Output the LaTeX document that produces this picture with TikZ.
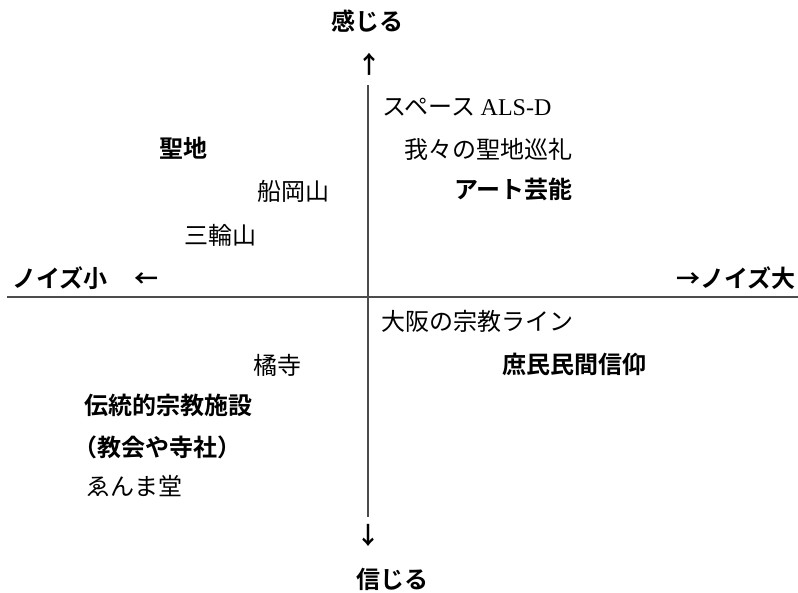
\documentclass[tikz,border=0pt]{standalone}
\usepackage{fontspec}
\setmainfont{Noto Sans CJK JP}[BoldFont={Noto Sans CJK JP Bold}]
\newfontfamily\latinserif{Liberation Serif}
\tikzset{
  lbl/.style={inner sep=0pt, font=\fontsize{24pt}{28pt}\selectfont, text height=21pt, text depth=3pt},
  blbl/.style={lbl, font=\fontsize{24pt}{28pt}\selectfont\bfseries},
  axis/.style={draw=black!70, line width=1.2pt}
}
\begin{document}
\begin{tikzpicture}[x=1pt,y=-1pt]
\useasboundingbox (0,0) rectangle (798,592);
\coordinate (vtop) at (368,85);
\coordinate (vbot) at (368,517);
\coordinate (hl) at (7,297);
\coordinate (hr) at (798,297);
\draw[axis] (vtop) -- (vbot);
\draw[axis] (hl) -- (hr);

\node[blbl] (kanjiru) at (367,21) {感じる};
\node[blbl] (up) at (369,64) {↑};
\node[blbl] (down) at (368,535) {↓};
\node[blbl] (shinjiru) at (392,579) {信じる};
\node[blbl, anchor=west] (small) at (12,278) {ノイズ小\hspace{27pt}←};
\node[blbl, anchor=east] (large) at (796,278) {→ノイズ大};

\node[lbl, anchor=west] (space) at (382,106) {スペース {\latinserif ALS-D}};
\node[blbl, anchor=west] (seichi) at (159,148) {聖地};
\node[lbl, anchor=west] (junrei) at (404,149) {我々の聖地巡礼};
\node[lbl, anchor=east] (funaoka) at (330,191) {船岡山};
\node[blbl, anchor=west] (art) at (454,189) {アート芸能};
\node[lbl, anchor=west] (miwa) at (184,235) {三輪山};
\node[lbl, anchor=west] (osaka) at (381,321) {大阪の宗教ライン};
\node[lbl, anchor=east] (tachibana) at (302,365) {橘寺};
\node[blbl, anchor=west] (shomin) at (502,364) {庶民民間信仰};
\node[blbl, anchor=west] (dento) at (84,405) {伝統的宗教施設};
\node[blbl, anchor=west] (kyokai) at (73,447) {（教会や寺社）};
\node[lbl, anchor=west] (enma) at (86,486) {ゑんま堂};
\end{tikzpicture}
\end{document}
